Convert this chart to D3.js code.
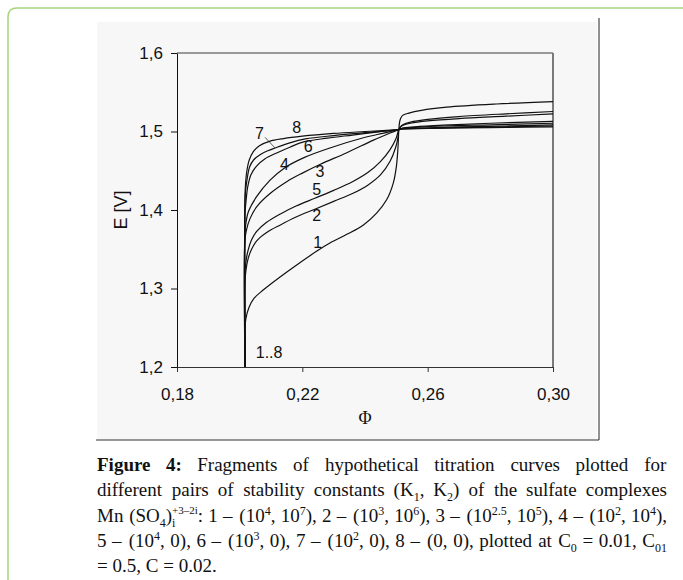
<!DOCTYPE html>
<html>
<head>
<meta charset="utf-8">
<script src="https://cdn.jsdelivr.net/npm/d3@7"></script>
<style>
body { margin: 0; background: #fff; }
svg { display: block; }
</style>
</head>
<body>
<script>

// ticks
const xTicks = [0.18, 0.22, 0.26, 0.30];
const yTicks = [1.2, 1.3, 1.4, 1.5, 1.6];

// titration curves, [phi, E]
const curve1 = [[0.2017,1.2],[0.2017,1.25],[0.2020,1.262],[0.2030,1.276],[0.2045,1.287],[0.2075,1.298],[0.2130,1.315],[0.2182,1.330],[0.2244,1.347],[0.2288,1.358],[0.2342,1.369],[0.2395,1.381],[0.2437,1.396],[0.2469,1.413],[0.2490,1.434],[0.2500,1.455],[0.2505,1.478],[0.2508,1.5025],[0.2510,1.511],[0.2513,1.516],[0.2520,1.5205],[0.2540,1.5235],[0.2580,1.527],[0.2661,1.531],[0.2820,1.535],[0.3000,1.538]];
const curve2 = [[0.2017,1.2],[0.2017,1.308],[0.2020,1.323],[0.2027,1.338],[0.2038,1.350],[0.2055,1.361],[0.2085,1.371],[0.2130,1.381],[0.2180,1.391],[0.2240,1.401],[0.2300,1.411],[0.2360,1.421],[0.2410,1.432],[0.2450,1.445],[0.2480,1.462],[0.2498,1.480],[0.2505,1.492],[0.2508,1.5025],[0.2513,1.506],[0.2522,1.509],[0.2545,1.512],[0.2600,1.5155],[0.2700,1.519],[0.2850,1.5225],[0.3000,1.5255]];
const curve3 = [[0.2017,1.2],[0.2017,1.362],[0.2022,1.375],[0.2033,1.389],[0.2054,1.404],[0.2097,1.421],[0.2150,1.436],[0.2200,1.447],[0.2256,1.458],[0.2342,1.473],[0.2427,1.489],[0.2480,1.498],[0.2508,1.5025],[0.2520,1.5045],[0.2560,1.506],[0.2650,1.508],[0.2800,1.5105],[0.3000,1.513]];
const curve4 = [[0.2017,1.2],[0.2017,1.372],[0.2021,1.386],[0.2028,1.398],[0.2054,1.417],[0.2097,1.438],[0.2141,1.453],[0.2207,1.467],[0.2288,1.479],[0.2395,1.492],[0.2460,1.498],[0.2508,1.5025],[0.2520,1.504],[0.2560,1.5052],[0.2650,1.507],[0.2800,1.5085],[0.3000,1.5105]];
const curve5 = [[0.2017,1.2],[0.2017,1.318],[0.2020,1.334],[0.2027,1.349],[0.2038,1.362],[0.2055,1.373],[0.2085,1.384],[0.2130,1.395],[0.2180,1.405],[0.2240,1.415],[0.2300,1.425],[0.2360,1.436],[0.2410,1.448],[0.2450,1.462],[0.2480,1.477],[0.2498,1.490],[0.2508,1.5025],[0.2513,1.5055],[0.2522,1.508],[0.2545,1.5105],[0.2600,1.5135],[0.2700,1.5165],[0.2850,1.5195],[0.3000,1.5225]];
const curve6 = [[0.2017,1.2],[0.2017,1.395],[0.2020,1.41],[0.2026,1.43],[0.2036,1.445],[0.2054,1.456],[0.2080,1.465],[0.2120,1.473],[0.2160,1.480],[0.2207,1.487],[0.2280,1.4915],[0.2360,1.4955],[0.2430,1.499],[0.2508,1.5025],[0.2520,1.5035],[0.2600,1.5045],[0.2700,1.5058],[0.2850,1.507],[0.3000,1.5085]];
const curve7 = [[0.2017,1.2],[0.2017,1.410],[0.2019,1.425],[0.2024,1.44],[0.2032,1.455],[0.2045,1.464],[0.2065,1.4705],[0.2090,1.4755],[0.2113,1.479],[0.2160,1.4855],[0.2210,1.4905],[0.2300,1.4948],[0.2400,1.4985],[0.2508,1.5025],[0.2520,1.5033],[0.2600,1.504],[0.2700,1.505],[0.2850,1.506],[0.3000,1.507]];
const curve8 = [[0.2017,1.2],[0.2017,1.417],[0.2019,1.435],[0.2023,1.45],[0.2030,1.463],[0.2043,1.474],[0.2063,1.482],[0.2095,1.4875],[0.2140,1.491],[0.2200,1.494],[0.2300,1.4975],[0.2400,1.500],[0.2508,1.5025],[0.2520,1.5032],[0.2600,1.5038],[0.2700,1.5045],[0.2850,1.5052],[0.3000,1.506]];

// curve numbers written in the plot
const labelText = ["1", "2", "3", "4", "5", "6", "7", "8", "1..8"];
const labelPhi = [0.2249, 0.2246, 0.2256, 0.2143, 0.2246, 0.2219, 0.2063, 0.2182, 0.2094];
const labelE = [1.3588, 1.3936, 1.4488, 1.4586, 1.4264, 1.4806, 1.4977, 1.5053, 1.2182];
// little pointer from "7" to its curve
const leaderPhi = [0.2081, 0.2113];
const leaderE = [1.4926, 1.4790];

// caption, words made of [text, style] pieces
const W = (s) => [[s]];
const captionLines = [
  [[["Figure","b"]], [["4:","b"]], W("Fragments"), W("of"), W("hypothetical"), W("titration"), W("curves"), W("plotted"), W("for")],
  [W("different"), W("pairs"), W("of"), W("stability"), W("constants"), [["(K"],["1","sub"],[","]], [["K"],["2","sub"],[")"]], W("of"), W("the"), W("sulfate"), W("complexes")],
  [W("Mn"), [["(SO"],["4","sub"],[")"],["i","sub"],["+3\u20132i","supback"],[":"]], W("1"), W("\u2013"), [["(10"],["4","sup"],[","]], [["10"],["7","sup"],["),"]],
   W("2"), W("\u2013"), [["(10"],["3","sup"],[","]], [["10"],["6","sup"],["),"]],
   W("3"), W("\u2013"), [["(10"],["2.5","sup"],[","]], [["10"],["5","sup"],["),"]],
   W("4"), W("\u2013"), [["(10"],["2","sup"],[","]], [["10"],["4","sup"],["),"]]],
  [W("5"), W("\u2013"), [["(10"],["4","sup"],[","]], W("0),"), W("6"), W("\u2013"), [["(10"],["3","sup"],[","]], W("0),"),
   W("7"), W("\u2013"), [["(10"],["2","sup"],[","]], W("0),"), W("8"), W("\u2013"), W("(0,"), W("0),"), W("plotted"), W("at"),
   [["C"],["0","sub"]], W("="), W("0.01,"), [["C"],["01","sub"]]],
  [W("="), W("0.5,"), W("C"), W("="), W("0.02.")]
];

const svg = d3.select("body").append("svg")
    .attr("width", 683)
    .attr("height", 580);

svg.append("rect").attr("width", 683).attr("height", 580).attr("fill", "#fff");

// green frame of the page
svg.append("path")
    .attr("d", "M8,590 L8,17 Q8,8 17,8 L690,8")
    .attr("fill", "none")
    .attr("stroke", "#a9d47f")
    .attr("stroke-width", 1.5);

// the figure image background and its edges
svg.append("rect")
    .attr("x", 97).attr("y", 22)
    .attr("width", 500).attr("height", 418)
    .attr("fill", "#f7f7f7");
svg.append("line").attr("x1", 599).attr("x2", 599).attr("y1", 18).attr("y2", 440)
    .attr("stroke", "#222").attr("stroke-width", 1);
svg.append("line").attr("x1", 96).attr("x2", 599).attr("y1", 440).attr("y2", 440)
    .attr("stroke", "#333").attr("stroke-width", 1);

const x = d3.scaleLinear().domain([0.18, 0.30]).range([177, 553]);
const y = d3.scaleLinear().domain([1.2, 1.6]).range([367, 53]);

const comma = (f) => (d) => d3.format(f)(d).replace(".", ",");

// plot box, top and right in grey
svg.append("line").attr("x1", x(0.18)).attr("x2", x(0.30)).attr("y1", y(1.6)).attr("y2", y(1.6))
    .attr("stroke", "#7a7a7a").attr("stroke-width", 1.5);
svg.append("line").attr("x1", x(0.30)).attr("x2", x(0.30)).attr("y1", y(1.6)).attr("y2", y(1.2))
    .attr("stroke", "#7a7a7a").attr("stroke-width", 2);

// axes
let gx = svg.append("g")
    .attr("transform", "translate(0," + y(1.2) + ")")
    .call(d3.axisBottom(x).tickValues(xTicks).tickSize(5).tickSizeOuter(0).tickPadding(16).tickFormat(comma(".2f")));
gx.attr("font-family", "'Liberation Sans', Arial, sans-serif").attr("font-size", 17);
gx.selectAll("path, line").attr("stroke", "#333");
gx.selectAll("text").attr("fill", "#111");

let gy = svg.append("g")
    .attr("transform", "translate(" + x(0.18) + ",0)")
    .call(d3.axisLeft(y).tickValues(yTicks).tickSize(6).tickSizeOuter(0).tickPadding(8).tickFormat(comma(".1f")));
gy.attr("font-family", "'Liberation Sans', Arial, sans-serif").attr("font-size", 17);
gy.selectAll("path, line").attr("stroke", "#111");
gy.selectAll("text").attr("fill", "#111");

// axis titles
svg.append("text")
    .attr("transform", "translate(" + 127 + "," + y(1.4) + ") rotate(-90)")
    .attr("text-anchor", "middle")
    .attr("font-family", "'Liberation Sans', Arial, sans-serif")
    .attr("font-size", 18)
    .attr("fill", "#111")
    .text("E [V]");

svg.append("text")
    .attr("x", x(0.24))
    .attr("y", 424)
    .attr("text-anchor", "middle")
    .attr("font-family", "'Liberation Serif', 'Times New Roman', serif")
    .attr("font-size", 18)
    .attr("fill", "#111")
    .text("\u03A6");

// the curves
const curves = [curve1, curve2, curve3, curve4, curve5, curve6, curve7, curve8];
const line = d3.line()
    .x(d => x(d[0]))
    .y(d => y(d[1]))
    .curve(d3.curveCatmullRom.alpha(0.5));

svg.append("g")
    .selectAll("path")
    .data(curves)
    .enter()
    .append("path")
      .attr("d", line)
      .attr("fill", "none")
      .attr("stroke", "#111")
      .attr("stroke-width", 1.2);

// curve labels
svg.append("g")
    .selectAll("text")
    .data(labelText)
    .enter()
    .append("text")
      .attr("x", (d, i) => x(labelPhi[i]))
      .attr("y", (d, i) => y(labelE[i]))
      .attr("dy", "0.36em")
      .attr("text-anchor", "middle")
      .attr("font-family", "'Liberation Sans', Arial, sans-serif")
      .attr("font-size", 16)
      .attr("fill", "#111")
      .text(d => d);

svg.append("line")
    .attr("x1", x(leaderPhi[0])).attr("y1", y(leaderE[0]))
    .attr("x2", x(leaderPhi[1])).attr("y2", y(leaderE[1]))
    .attr("stroke", "#333").attr("stroke-width", 0.8);

// caption, justified like the journal page
const capLeft = 97, capRight = 667, capTop = 471, capStep = 25.3;
const serif = "'Liberation Serif', 'Times New Roman', serif";
const shifts = { sub: 5, sup: -7, supback: -8 };

captionLines.forEach((words, li) => {
  let g = svg.append("g").attr("font-family", serif).attr("fill", "#111");
  let nodes = words.map(word => {
    let t = g.append("text").attr("font-size", 19);
    let cur = 0, prev = null;
    word.forEach(seg => {
      let style = seg[1];
      let shift = shifts[style] || 0;
      let ts = t.append("tspan").text(seg[0]).attr("dy", shift - cur);
      if (style == "sub" || style == "sup") ts.attr("font-size", 12);
      if (style == "supback") ts.attr("font-size", 11);
      if (style == "b") ts.attr("font-weight", "bold");
      if (style == "supback" && prev) ts.attr("dx", -prev.node().getComputedTextLength());
      cur = shift;
      prev = ts;
    });
    return t;
  });
  let widths = nodes.map(n => n.node().getBBox().width);
  let total = d3.sum(widths);
  let gap = li < captionLines.length - 1 ? (capRight - capLeft - total) / (nodes.length - 1) : 4.8;
  let xx = capLeft;
  nodes.forEach((n, i) => {
    n.attr("transform", "translate(" + xx + "," + (capTop + li * capStep) + ")");
    xx += widths[i] + gap;
  });
});

</script>
</body>
</html>
